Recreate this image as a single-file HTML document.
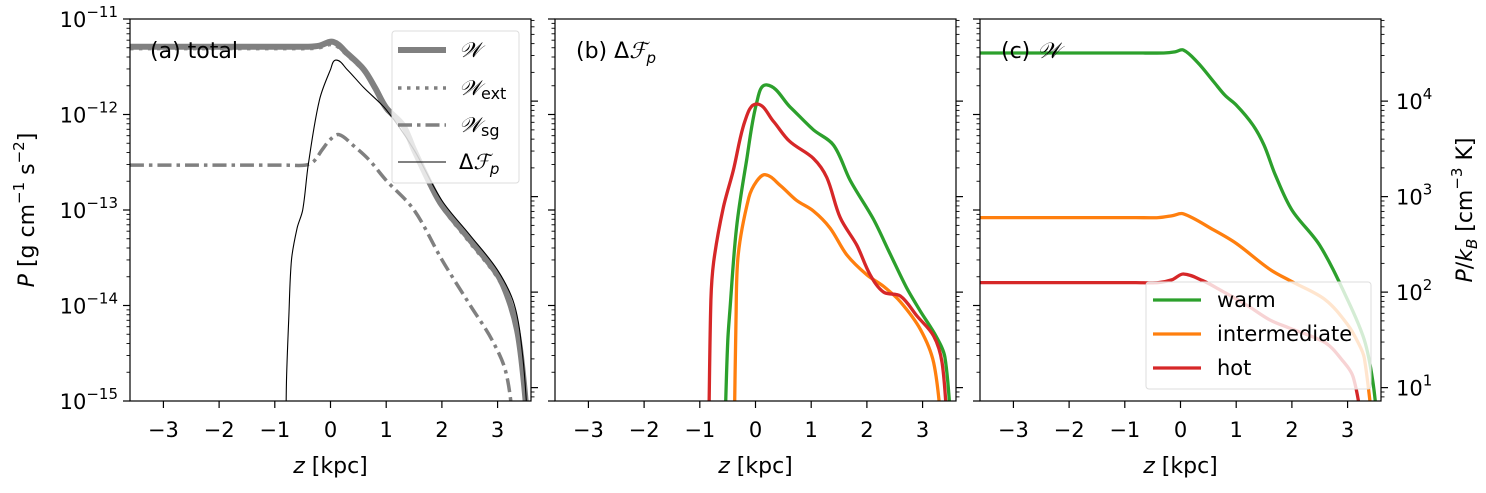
<!DOCTYPE html>
<html><head><meta charset="utf-8"><style>
body{margin:0;background:#fff}
svg text{font-family:"DejaVu Sans","Liberation Sans",sans-serif;fill:#000}
</style></head><body>
<svg id="fig" width="1486" height="488" viewBox="0 0 1486 488" xmlns="http://www.w3.org/2000/svg"></svg>
<script>
// ---- data (z in kpc, values are log10 P [g cm^-1 s^-2]) ----
const xTicks = [-3,-2,-1,0,1,2,3];
const yTickExps = [-11,-12,-13,-14,-15];
const kbTickExps = [4,3,2,1];
// panel a
const aW_z = [-3.6,-2.5,-1.5,-0.8,-0.4,-0.2,0.05,0.3,0.6,0.8,1.0,1.3,1.5,1.8,2.0,2.5,3.0,3.2,3.35,3.45,3.55];
const aW_v = [-11.29,-11.29,-11.29,-11.29,-11.29,-11.28,-11.24,-11.36,-11.53,-11.72,-11.93,-12.11,-12.37,-12.74,-12.95,-13.31,-13.68,-13.94,-14.26,-14.68,-15.3];
const aExt_v = [-11.31,-11.31,-11.31,-11.31,-11.31,-11.30,-11.27,-11.38,-11.55,-11.74,-11.95,-12.13,-12.39,-12.76,-12.97,-13.34,-13.71,-13.97,-14.3,-14.7,-15.3];
const aSg_z = [-3.6,-2.5,-1.5,-0.8,-0.45,-0.3,-0.15,0.0,0.15,0.4,0.7,1.0,1.5,2.0,2.5,2.9,3.15,3.3];
const aSg_v = [-12.53,-12.53,-12.53,-12.53,-12.53,-12.49,-12.37,-12.26,-12.21,-12.32,-12.48,-12.69,-13.0,-13.52,-13.99,-14.36,-14.7,-15.3];
const aF_z = [-0.8,-0.79,-0.75,-0.7,-0.6,-0.5,-0.4,-0.2,0,0.1,0.3,0.6,1.0,1.5,2.0,2.5,3.0,3.3,3.45,3.55];
const aF_v = [-15.3,-14.78,-14.15,-13.52,-13.19,-13.0,-12.53,-11.85,-11.53,-11.43,-11.53,-11.72,-11.95,-12.37,-12.9,-13.26,-13.63,-13.99,-14.52,-15.3];
// panel b
const bWarm_z = [-0.55,-0.5,-0.46,-0.34,-0.16,0.02,0.2,0.62,1.04,1.4,1.7,2.12,2.41,2.71,2.95,3.25,3.4,3.52];
const bWarm_v = [-15.3,-14.39,-14.05,-13.18,-12.48,-11.88,-11.69,-11.92,-12.16,-12.32,-12.69,-13.10,-13.45,-13.81,-14.05,-14.33,-14.54,-15.3];
const bHot_z = [-0.84,-0.8,-0.75,-0.58,-0.4,-0.19,0.02,0.32,0.61,1.04,1.28,1.52,1.82,2.06,2.3,2.6,2.9,3.2,3.35,3.45];
const bHot_v = [-15.3,-13.94,-13.54,-12.98,-12.59,-12.07,-11.89,-12.07,-12.28,-12.46,-12.66,-13.08,-13.37,-13.68,-13.86,-13.90,-14.11,-14.32,-14.60,-15.3];
const bInt_z = [-0.38,-0.35,-0.31,-0.12,0.02,0.18,0.44,0.74,1.04,1.34,1.64,2.0,2.3,2.6,2.96,3.2,3.35];
const bInt_v = [-15.3,-14.15,-13.47,-12.87,-12.70,-12.63,-12.74,-12.90,-13.01,-13.19,-13.47,-13.68,-13.80,-13.96,-14.25,-14.60,-15.3];
// panel c
const cWarm_z = [-3.6,-2.5,-1.5,-0.8,-0.3,-0.1,0.05,0.3,0.6,0.8,1.0,1.3,1.5,1.7,2.0,2.5,3.0,3.3,3.45,3.55];
const cWarm_v = [-11.356,-11.356,-11.356,-11.356,-11.356,-11.345,-11.325,-11.45,-11.66,-11.80,-11.90,-12.11,-12.32,-12.63,-13.0,-13.37,-13.94,-14.36,-14.78,-15.3];
const cInt_z = [-3.6,-2.5,-1.5,-0.8,-0.4,-0.15,0.05,0.6,1.0,1.6,2.0,2.6,3.0,3.2,3.3,3.46];
const cInt_v = [-13.08,-13.08,-13.08,-13.08,-13.08,-13.06,-13.04,-13.21,-13.35,-13.62,-13.75,-13.94,-14.2,-14.4,-14.55,-15.3];
const cHot_z = [-3.6,-2.5,-1.5,-0.8,-0.4,-0.15,0.05,0.4,0.72,1.2,1.6,1.97,2.6,2.9,3.1,3.28];
const cHot_v = [-13.76,-13.76,-13.76,-13.76,-13.76,-13.73,-13.67,-13.74,-13.84,-14.0,-14.15,-14.24,-14.39,-14.57,-14.75,-15.3];

const NS="http://www.w3.org/2000/svg";
const svg=document.getElementById('fig');
function mk(tag,attrs,parent){const e=document.createElementNS(NS,tag);for(const k in attrs)e.setAttribute(k,attrs[k]);(parent||svg).appendChild(e);return e;}
const TOP=19,BOT=401,PW=401;
const LOG_KB=Math.log10(1.380649e-16);
function xs(L){return z=>L+PW/2+z*(PW/7.2);}
function ys(v){return TOP+(-11-v)*(BOT-TOP)/4;}
function line(g,sx,zs,vs,style,name){
  const P=zs.map((z,i)=>[sx(z),ys(vs[i])]);
  let d='M'+P[0][0].toFixed(1)+','+P[0][1].toFixed(1);
  for(let i=0;i<P.length-1;i++){
    const p0=P[Math.max(0,i-1)],p1=P[i],p2=P[i+1],p3=P[Math.min(P.length-1,i+2)];
    const seg=Math.hypot(p2[0]-p1[0],p2[1]-p1[1]);
    function tan(a,b){const l=Math.hypot(b[0]-a[0],b[1]-a[1])||1;return [(b[0]-a[0])/l,(b[1]-a[1])/l];}
    const t1=tan(p0,p2),t2=tan(p1,p3),k=seg*0.33;
    const c1=[p1[0]+t1[0]*k,p1[1]+t1[1]*k];
    const c2=[p2[0]-t2[0]*k,p2[1]-t2[1]*k];
    d+='C'+c1[0].toFixed(1)+','+c1[1].toFixed(1)+' '+c2[0].toFixed(1)+','+c2[1].toFixed(1)+' '+p2[0].toFixed(1)+','+p2[1].toFixed(1);
  }
  const p=mk('path',Object.assign({d:d,fill:'none','stroke-linejoin':'round'},style),g);
  
  
}
function sup(base,exp,x,y,anchor){
  const te=mk('text',{x:x,y:y,'font-size':21,'text-anchor':anchor||'start'});
  const a=document.createElementNS(NS,'tspan');a.textContent=base;te.appendChild(a);
  const b=document.createElementNS(NS,'tspan');b.setAttribute('dy','-10');b.setAttribute('font-size','15');b.textContent=exp;te.appendChild(b);
  return te;
}
function panel(L,id,showYLabels){
  const sx=xs(L);
  const g=mk('g',{});
  
  
  const cp=mk('clipPath',{id:'clip'+id},g);
  mk('rect',{x:L,y:TOP,width:PW,height:BOT-TOP},cp);
  xTicks.forEach(t=>{
    const x=sx(t);
    mk('line',{x1:x,x2:x,y1:BOT,y2:BOT+7,stroke:'#000','stroke-width':1.2},g);
    const tx=mk('text',{x:x,y:BOT+36,'font-size':21,'text-anchor':'middle'},g);
    tx.textContent=(t<0?'\u2212'+(-t):''+t);
    
    
  });
  const xl=mk('text',{x:L+PW/2,y:473,'font-size':22,'text-anchor':'middle'},g);
  xl.innerHTML='<tspan font-style="italic">z</tspan> [kpc]';
  
  
  for(let e=-15;e<=-12;e++){for(let m=1;m<10;m++){const v=e+Math.log10(m);const y=ys(v);
    mk('line',{x1:L,x2:L-(m==1?7:3.5),y1:y,y2:y,stroke:'#000','stroke-width':m==1?1.2:0.9},g);}}
  mk('line',{x1:L,x2:L-7,y1:TOP,y2:TOP,stroke:'#000','stroke-width':1.2},g);
  if(showYLabels){yTickExps.forEach(e=>{const t=sup('10','\u2212'+(-e),L-12,ys(e)+8,'end');g.appendChild(t);
    
    });}
  for(let e=0;e<=4;e++){for(let m=1;m<10;m++){const v=e+Math.log10(m)+LOG_KB;const y=ys(v);if(y<TOP||y>BOT)continue;
    mk('line',{x1:L+PW,x2:L+PW+(m==1?7:3.5),y1:y,y2:y,stroke:'#000','stroke-width':m==1?1.2:0.9},g);}}
  const lg=mk('g',{'clip-path':'url(#clip'+id+')'},g);
  mk('rect',{x:L,y:TOP,width:PW,height:BOT-TOP,fill:'none',stroke:'#000','stroke-width':1.2},g);
  return {sx:sx,g:lg};
}
let P=panel(130,'a',true);
line(P.g,P.sx,aW_z,aW_v,{stroke:'#808080','stroke-width':6},'series-W');
line(P.g,P.sx,aW_z,aExt_v,{stroke:'#808080','stroke-width':3.5,'stroke-dasharray':'3.5,5.5','stroke-opacity':0.9},'series-W-ext');
line(P.g,P.sx,aSg_z,aSg_v,{stroke:'#808080','stroke-width':3.5,'stroke-dasharray':'14,5,3.5,5'},'series-W-sg');
line(P.g,P.sx,aF_z,aF_v,{stroke:'#000','stroke-width':1.1},'series-delta-Fp');
let Q=panel(555,'b',false);
line(Q.g,Q.sx,bWarm_z,bWarm_v,{stroke:'#2ca02c','stroke-width':3.3},'series-warm');
line(Q.g,Q.sx,bInt_z,bInt_v,{stroke:'#ff7f0e','stroke-width':3.3},'series-intermediate');
line(Q.g,Q.sx,bHot_z,bHot_v,{stroke:'#d62728','stroke-width':3.3},'series-hot');
let R=panel(980,'c',false);
line(R.g,R.sx,cWarm_z,cWarm_v,{stroke:'#2ca02c','stroke-width':3.3},'series-warm');
line(R.g,R.sx,cInt_z,cInt_v,{stroke:'#ff7f0e','stroke-width':3.3},'series-intermediate');
line(R.g,R.sx,cHot_z,cHot_v,{stroke:'#d62728','stroke-width':3.3},'series-hot');
kbTickExps.forEach(e=>{const t=sup('10',''+e,1396,ys(e+LOG_KB)+8,'start');
  
  });
</script>
<svg width="1486" height="488" style="position:absolute;left:0;top:0" xmlns="http://www.w3.org/2000/svg">
<g font-family="DejaVu Sans, Liberation Sans, sans-serif" fill="#000">
<text x="34" y="210" font-size="22" text-anchor="middle" transform="rotate(-90 34 210)"><tspan font-style="italic">P</tspan> [g cm<tspan dy="-10" font-size="15">−1</tspan><tspan dy="10"> s</tspan><tspan dy="-10" font-size="15">−2</tspan><tspan dy="10">]</tspan></text>
<text x="1472" y="210" font-size="22" text-anchor="middle" transform="rotate(-90 1472 210)"><tspan font-style="italic">P</tspan>/<tspan font-style="italic">k</tspan><tspan dy="5" font-size="15" font-style="italic">B</tspan><tspan dy="-5"> [cm</tspan><tspan dy="-10" font-size="15">−3</tspan><tspan dy="10"> K]</tspan></text>
<text x="150" y="58" font-size="22">(a) total</text>
<text x="576" y="58" font-size="22">(b) Δ<tspan font-style="italic" font-family="Liberation Serif, serif">ℱ</tspan><tspan dy="5" font-size="15" font-style="italic">p</tspan></text>
<text x="1001" y="58" font-size="22">(c) <tspan font-style="italic" font-family="Liberation Serif, serif">𝒲</tspan></text>
<g>
<rect x="392" y="31" width="127" height="152" rx="3" fill="#fff" fill-opacity="0.8" stroke="#ddd"/>
<line x1="398" x2="446" y1="50" y2="50" stroke="#808080" stroke-width="6"/>
<text x="459" y="57" font-size="21" font-style="italic" font-family="Liberation Serif, serif">𝒲</text>
<line x1="398" x2="446" y1="88" y2="88" stroke="#808080" stroke-width="3.5" stroke-dasharray="3.5,5.5"/>
<text x="459" y="95" font-size="21"><tspan font-style="italic" font-family="Liberation Serif, serif">𝒲</tspan><tspan dy="4" font-size="16">ext</tspan></text>
<line x1="398" x2="446" y1="125" y2="125" stroke="#808080" stroke-width="3.5" stroke-dasharray="14,5,3.5,5"/>
<text x="459" y="132" font-size="21"><tspan font-style="italic" font-family="Liberation Serif, serif">𝒲</tspan><tspan dy="4" font-size="16">sg</tspan></text>
<line x1="398" x2="446" y1="162" y2="162" stroke="#000" stroke-width="1.1"/>
<text x="459" y="169" font-size="21">Δ<tspan font-style="italic" font-family="Liberation Serif, serif">ℱ</tspan><tspan dy="5" font-size="15" font-style="italic">p</tspan></text>
</g>
<g>
<rect x="1146" y="282" width="225" height="107" rx="3" fill="#fff" fill-opacity="0.8" stroke="#ddd"/>
<line x1="1153" x2="1201" y1="300" y2="300" stroke="#2ca02c" stroke-width="3.3"/>
<text x="1217" y="307" font-size="21">warm</text>
<line x1="1153" x2="1201" y1="334" y2="334" stroke="#ff7f0e" stroke-width="3.3"/>
<text x="1217" y="341" font-size="21">intermediate</text>
<line x1="1153" x2="1201" y1="368" y2="368" stroke="#d62728" stroke-width="3.3"/>
<text x="1217" y="375" font-size="21">hot</text>
</g>
</g>
</svg>
</body></html>
